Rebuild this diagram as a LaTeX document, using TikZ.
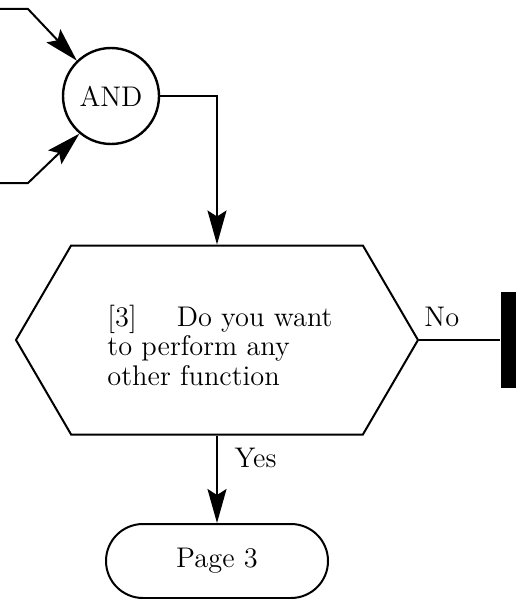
\documentclass[tikz,border=0pt]{standalone}
\usetikzlibrary{arrows.meta,shapes.misc,shapes.symbols}
\tikzset{
  flow/.style={line width=1pt, -{Stealth[length=17pt,width=9.5pt,inset=3pt]}},
  gate/.style={circle, draw, line width=1.2pt, minimum size=48pt, inner sep=0pt},
  decision/.style={signal, signal to=west and east, signal pointer angle=119.5,
    draw, line width=1pt, minimum width=201pt, minimum height=94.5pt, inner sep=0pt},
  terminal/.style={rounded rectangle, draw, line width=1pt, minimum width=111pt,
    minimum height=37pt, inner sep=0pt}
}
\begin{document}
\begin{tikzpicture}[x=0.5pt, y=-0.5pt, font=\fontsize{14.2}{14.75}\selectfont]
    \useasboundingbox (0, 0) rectangle (516, 599);
    \coordinate (in1) at (0, 9);
    \coordinate (in2) at (0, 183);
    \node (and) [gate] at (111, 96) {AND};
    \node (ask) [decision] at (217, 340) {};
    \node (asktxt) [align=left] at (220, 345) {[3]\hspace{20pt}Do you want\\to perform any\\other function};
    \node (bar) [fill, inner sep=0pt, minimum width=7.5pt, minimum height=48pt] at (508, 340) {};
    \node (pg3) [terminal] at (217, 561) {Page 3};
    \draw[flow] (in1) -- ++(28, 0) -- (and.134);
    \draw[flow] (in2) -- ++(28, 0) -- (and.230);
    \draw[flow] (and.east) -| (ask.north);
    \draw[line width=1pt] (ask.east) -- node [pos=.28, above=3pt] {No} (bar.west);
    \draw[flow] (ask.south) -- node [pos=.26, right=5pt] {Yes} (pg3.north);
\end{tikzpicture}
\end{document}
